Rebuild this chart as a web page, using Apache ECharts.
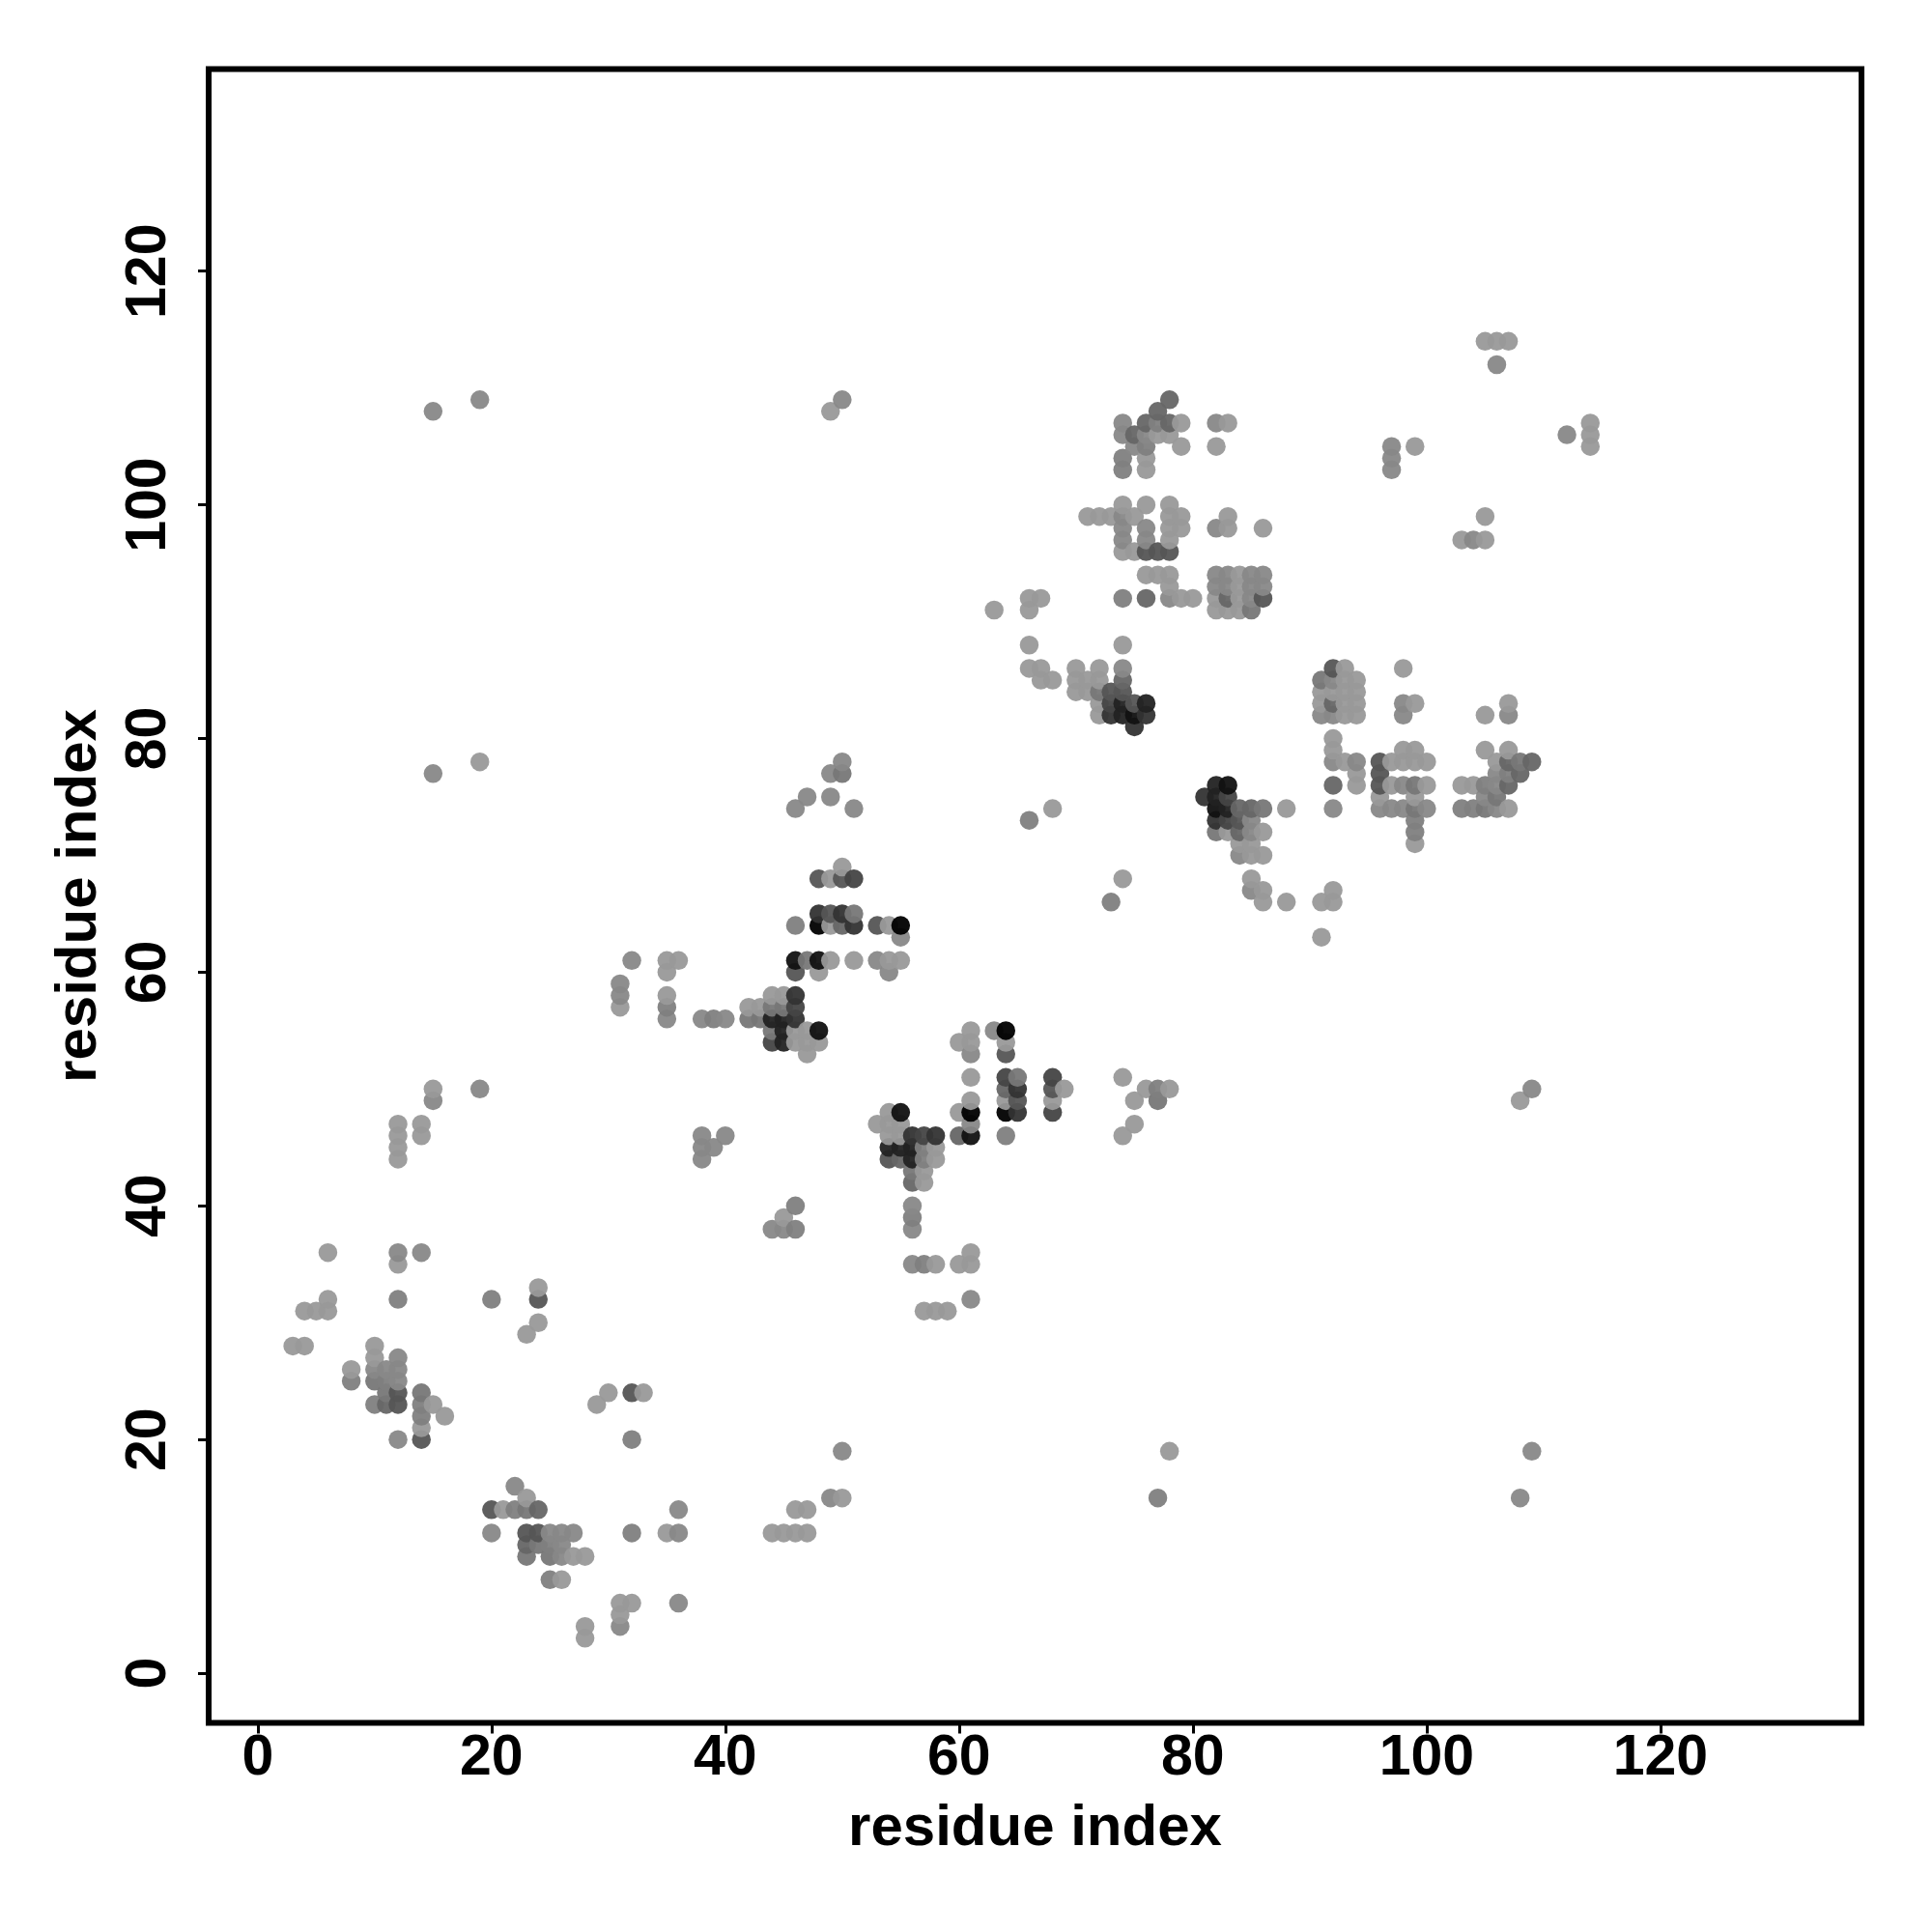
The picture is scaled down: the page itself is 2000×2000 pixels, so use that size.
<!DOCTYPE html>
<html><head><meta charset="utf-8">
<style>html,body{margin:0;padding:0;background:#fff}#c{width:2000px;height:2000px}</style>
<script src="https://cdn.jsdelivr.net/npm/echarts@6/dist/echarts.min.js"></script>
</head><body><div id="c"></div>
<script>
const tickValues=[0,20,40,60,80,100,120];
const axisTitle='residue index';
const shade153=[[6,36],[12,35],[6,32],[4,31],[5,31],[6,31],[24,33],[24,30],[23,29],[3,28],[4,28],[10,28],[10,27],[8,26],[14,21],[15,23],[16,22],[29,23],[30,24],[33,24],[23,15],[21,14],[35,12],[27,10],[28,10],[26,8],[31,6],[32,6],[31,5],[28,4],[28,3],[44,12],[45,12],[46,12],[47,12],[46,14],[47,14],[50,15],[78,19],[45,39],[12,44],[12,45],[12,46],[12,47],[14,46],[14,47],[15,50],[19,78],[49,108],[108,49],
[50,69],[49,68],[49,64],[54,64],[49,61],[51,61],[54,61],[55,61],[35,61],[36,61],[35,60],[48,60],[31,57],[35,58],[44,58],[45,58],[42,57],[43,57],[46,55],[47,55],[46,54],[47,54],[48,54],[47,53],
[61,55],[60,54],[61,54],[64,54],[61,51],[74,51],[69,50],[76,50],[78,50],[61,49],[64,49],[68,49],[75,49],[60,48],[75,47],[53,47],[54,47],[54,48],[55,47],[54,46],[55,46],[74,46],[58,45],[58,44],[57,43],[57,42],[61,36],[58,35],[60,35],[61,35],[57,31],[58,31],[59,31],
[74,88],[70,86],[72,86],[68,85],[67,85],[70,85],[71,85],[72,85],[70,84],[71,84],[72,83],[88,74],[68,74],[83,72],[86,72],[84,71],[85,71],[85,70],[86,70],[74,68],[85,68],[86,67],[86,66],[88,66],[91,66],[92,66],[92,67],[91,63],[63,91],[66,91],[66,92],[67,92],[66,88],[66,86],[67,86],
[79,107],[83,107],[77,106],[78,106],[79,105],[82,105],[76,104],[76,103],[74,100],[76,100],[78,100],[71,99],[72,99],[73,99],[75,99],[78,99],[79,99],[83,99],[78,98],[79,98],[83,98],[86,98],[78,97],[74,96],[75,96],[79,92],[80,92],[82,92],[84,92],[84,93],[84,94],[78,94],[77,94],[76,94],[78,93],[82,91],[83,91],[84,91],
[93,86],[98,86],[93,85],[94,85],[93,84],[94,84],[91,84],[92,84],[91,83],[93,83],[94,83],[99,83],[93,82],[94,82],[105,82],[92,80],[92,79],[98,79],[99,79],[105,79],[107,79],[93,78],[97,78],[98,78],[99,78],[100,78],[106,78],[94,77],[94,76],[97,76],[100,76],[103,76],[104,76],[96,75],[99,75],[107,74],[99,71],[107,83],[105,114],[106,114],[107,114],[114,107],[114,106],[114,105],[99,105],[105,99],[103,97],[105,97],[72,82]];
const shade136=[[12,36],[14,36],[12,27],[10,26],[11,26],[12,26],[12,25],[12,20],[22,16],[20,12],[25,12],[26,12],[27,12],[36,12],[26,11],[26,10],[31,4],[36,6],[36,14],[49,15],[50,19],[109,19],[108,15],[44,38],[45,38],[15,49],[19,50],[15,77],[15,108],[19,109],[50,109],[109,50],
[38,46],[38,45],[38,44],[39,45],[40,46],[32,61],[31,59],[31,58],[35,56],[38,56],[40,56],[53,61],[54,60],[55,63],[49,77],[50,78],[46,74],[47,75],[49,75],[51,74],
[63,55],[61,53],[61,47],[56,40],[56,35],[56,38],[61,32],
[74,86],[85,67],[85,73],[85,72],[84,70],[74,107],[74,106],[76,106],[75,105],[74,99],[74,98],[76,98],[82,98],[74,97],[76,97],[82,107],[78,92],[85,92],[82,93],[83,93],[85,93],[86,93],[82,94],[83,94],[85,94],[86,94],
[92,85],[92,82],[91,82],[98,83],[98,82],[107,82],[94,78],[92,78],[92,74],[97,74],[98,74],[100,74],[96,74],[106,77],[98,76],[106,76],[105,75],[106,74],[97,105],[104,97],[97,104],[97,103],[106,112],[112,106]];
const shade128=[[12,32],[20,32],[8,25],[11,25],[10,23],[14,23],[14,22],[32,20],[22,14],[32,12],[25,11],[25,8],[77,15],[46,40],[46,38],[35,57],[39,56],[46,64],
[56,39],[57,45],[57,44],[57,35],[64,46],[77,50],[74,104],[74,103],[77,107],[74,92],[105,76],[103,74],[104,74],[107,77],[76,105],[66,73],[73,66],[99,73],[99,72]];
const shade119=[[10,25],[11,24],[14,24],[23,14],[24,11],[23,10],[25,10],[47,61],[51,65],[44,57],[45,57],[42,56],[43,56],[44,55],[56,43],[65,51],[77,49],[72,84],[86,74],[82,72],[85,91],[91,85],[99,76],[99,74],[105,74],[106,75],[108,78],[50,77]];
const shade102=[[24,14],[11,23],[23,11],[50,64],[55,44],[60,46],[64,50],[74,85],[84,74],[85,74],[84,72],[78,109],[77,108],[78,107],[75,106],[76,107],[76,92],[83,92],[92,83],[92,76],[107,78],[109,78],[108,77],[107,76],[56,42]];
const shade85=[[24,32],[32,24],[12,24],[12,23],[14,20],[20,14],[23,12],[24,12],[48,68],[50,68],[49,65],[53,64],[46,60],[64,53],[65,49],[68,50],[54,44],[73,84],[74,84],[75,83],[84,73],[92,86],[96,78],[96,77],[96,76],[76,96],[77,96],[78,96],[86,92]];
const shade68=[[51,68],[46,57],[44,54],[64,51],[68,51],[68,48],[57,46],[73,83],[83,75],[83,73]];
const shade51=[[48,65],[50,65],[51,64],[46,58],[46,56],[65,50],[65,48],[56,46],[58,46],[73,82],[76,82],[75,81],[81,75],[82,73]];
const shade34=[[44,56],[45,56],[45,55],[45,54],[54,45],[55,45],[56,45],[56,44],[74,83],[76,83],[74,82],[82,76],[82,75],[83,74]];
const shade17=[[46,61],[48,61],[48,55],[55,48],[61,46],[83,76],[75,82],[82,74]];
const shade0=[[61,48],[64,48],[55,64],[64,55],[48,64]];

const groups=[[153,shade153],[136,shade136],[128,shade128],[119,shade119],[102,shade102],[85,shade85],[68,shade68],[51,shade51],[34,shade34],[17,shade17],[0,shade0]];
const contacts=[];
groups.forEach(([g,pts])=>pts.forEach(p=>contacts.push([p[0],p[1],g])));
contacts.sort((a,b)=>a[0]-b[0]||a[1]-b[1]);
const chart=echarts.init(document.getElementById('c'),null,{renderer:'canvas'});
const font='"Liberation Sans",Arial,Helvetica,sans-serif';
const ink={color:'#000',fontFamily:font,fontWeight:'bold',fontSize:59};
const titleInk=Object.assign({},ink,{fontSize:60});
chart.setOption({
  animation:false,
  backgroundColor:'#fff',
  grid:{show:true,left:216,right:73,top:71.5,bottom:216.5,borderColor:'#000',borderWidth:6,backgroundColor:'transparent'},
  xAxis:{type:'value',min:-4.2,max:137.2,splitLine:{show:false},axisLine:{show:false,onZero:false},
    axisTick:{customValues:tickValues,length:11,lineStyle:{color:'#000',width:3}},
    axisLabel:Object.assign({customValues:tickValues,margin:8},ink),
    name:axisTitle,nameLocation:'middle',nameGap:80,nameTextStyle:titleInk},
  yAxis:{type:'value',min:-4.25,max:137.3,splitLine:{show:false},axisLine:{show:false,onZero:false},
    axisTick:{customValues:tickValues,length:11,lineStyle:{color:'#000',width:3}},
    axisLabel:Object.assign({customValues:tickValues,rotate:90,margin:32},ink),
    name:axisTitle,nameLocation:'middle',nameRotate:90,nameGap:104,nameTextStyle:titleInk},
  series:[{type:'scatter',data:contacts,symbol:'circle',symbolSize:19.5,silent:true,large:false,
    encode:{x:0,y:1},
    itemStyle:{opacity:0.95,borderWidth:0,color:p=>{const g=p.data[2];return `rgb(${g},${g},${g})`;}}}]
});
</script></body></html>
